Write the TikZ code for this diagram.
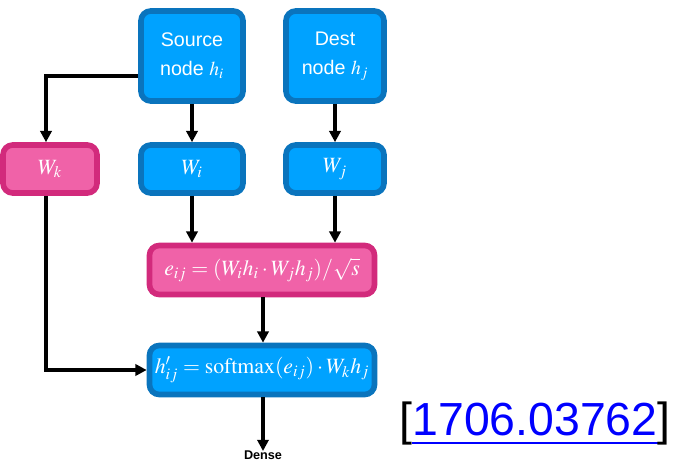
\documentclass[tikz,border=0pt]{standalone}
\usepackage{amsmath}
\usepackage{mathptmx}
\usepackage[no-math]{fontspec}
\usepackage{xcolor}
\setmainfont{Liberation Sans}
\usepackage{tikz}
\usetikzlibrary{arrows.meta}
\definecolor{boxblue}{HTML}{00A2FF}
\definecolor{edgeblue}{HTML}{0A74BD}
\definecolor{boxpink}{HTML}{F062A8}
\definecolor{edgepink}{HTML}{D22A7C}
\definecolor{linkblue}{HTML}{0000FF}

\begin{document}
\begin{tikzpicture}
[x=0.025cm, y=-0.025cm,
bluebox/.style={draw=edgeblue, fill=boxblue, line width=4pt, rounded corners=7pt,
	text=white, align=center, inner sep=0pt, font=\fontsize{14}{20.6}\selectfont},
pinkbox/.style={bluebox, draw=edgepink, fill=boxpink},
mathtext/.style={font=\fontsize{15.5}{18}\selectfont},
arr/.style={line width=2.4pt, -{Triangle[length=8pt,width=8pt]}}]
\useasboundingbox (0,0) rectangle (679,461);
\node[bluebox, minimum width=2.55cm, minimum height=2.25cm] (src) at (192,56) {Source\\node $h_i$};
\node[bluebox, minimum width=2.45cm, minimum height=2.25cm] (dst) at (335,56) {Dest\\node $h_j$};
\node[pinkbox, mathtext, minimum width=2.35cm, minimum height=1.2cm] (wk) at (50,169) {$W_k$};
\node[bluebox, mathtext, minimum width=2.55cm, minimum height=1.2cm] (wi) at (192,169) {$W_i$};
\node[bluebox, mathtext, minimum width=2.45cm, minimum height=1.2cm] (wj) at (335,169) {$W_j$};
\node[pinkbox, mathtext, minimum width=5.625cm, minimum height=1.225cm] (eij) at (262,270)
	{$e_{ij} = (W_ih_i \cdot W_jh_j)/\sqrt{s}$};
\node[bluebox, mathtext, minimum width=5.625cm, minimum height=1.225cm] (hij) at (262,370)
	{$h'_{ij} = \mathrm{softmax}(e_{ij}) \cdot W_kh_j$};
\node[anchor=north, font=\bfseries\fontsize{9}{11}\selectfont, inner sep=0pt] (dense) at (263,451) {Dense};
\node[font=\fontsize{33}{40}\selectfont, inner sep=0pt] (ref) at (535,424)
	{[\textcolor{linkblue}{\underline{1706.03762}}]};

\draw[arr] (src) -- (wi);
\draw[arr] (dst) -- (wj);
\draw[arr] (src.west |- 0,76) -| (wk.north -| 46,0);
\draw[arr] (wi) -- (eij.north -| wi);
\draw[arr] (wj) -- (eij.north -| wj);
\draw[arr] (eij.south -| 263,0) -- (hij.north -| 263,0);
\draw[arr] (wk.south -| 46,0) |- (hij.west);
\draw[arr] (hij.south -| 263,0) -- (dense.north);
\end{tikzpicture}
\end{document}
